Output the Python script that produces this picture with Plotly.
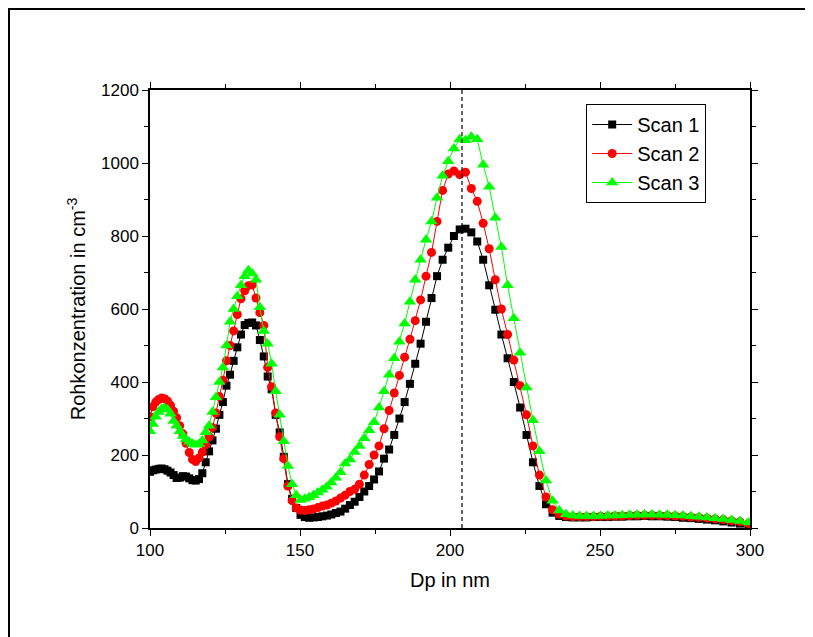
import plotly.graph_objects as go

dp_nm = [100.0, 100.95, 101.91, 102.88, 103.86, 104.84, 105.84, 106.84, 107.86, 108.88,
         109.92, 110.96, 112.02, 113.08, 114.16, 115.24, 116.34, 117.44, 118.56, 119.69,
         120.83, 121.98, 123.13, 124.30, 125.49, 126.68, 127.88, 129.10, 130.32, 131.56,
         132.80, 134.06, 135.33, 136.62, 137.92, 139.23, 140.55, 141.89, 143.24, 144.60,
         145.97, 147.36, 148.76, 150.17, 151.60, 153.04, 154.49, 155.96, 157.44, 158.94,
         160.44, 161.96, 163.50, 165.06, 166.63, 168.21, 169.81, 171.42, 173.05, 174.70,
         176.34, 178.02, 179.71, 181.42, 183.14, 184.88, 186.64, 188.41, 190.20, 192.01,
         193.84, 195.68, 197.54, 199.42, 201.31, 203.23, 205.16, 207.11, 209.08, 211.06,
         213.06, 215.09, 217.13, 219.20, 221.28, 223.38, 225.50, 227.65, 229.81, 231.99,
         234.19, 236.42, 238.67, 240.94, 243.22, 245.53, 247.87, 250.22, 252.60, 255.00,
         257.41, 259.87, 262.34, 264.83, 267.34, 269.88, 272.45, 275.04, 277.65, 280.29,
         282.95, 285.64, 288.35, 291.09, 293.85, 296.64, 299.46]

scan1 = [154, 158, 160, 162, 163, 161, 157, 152, 145, 137,
         138, 142, 141, 136, 131, 130, 134, 150, 180, 210,
         240, 272, 310, 345, 390, 420, 458, 495, 530, 556,
         562, 563, 555, 515, 470, 415, 380, 310, 262, 195,
         120, 80, 55, 36, 30, 28, 29, 30, 32, 34,
         37, 41, 45, 53, 63, 72, 85, 100, 115, 133,
         155, 190, 215, 255, 300, 345, 395, 450, 505, 565,
         630, 690, 735, 768, 800, 818, 820, 810, 785, 735,
         665, 598, 530, 465, 400, 330, 255, 180, 115, 65,
         42, 33, 30, 29, 29, 29, 30, 30, 30, 31,
         31, 32, 32, 33, 32, 32, 31, 30, 28, 27,
         25, 23, 21, 18, 15, 12, 8]

scan2 = [305, 332, 345, 352, 356, 354, 348, 336, 320, 302,
         280, 258, 232, 207, 188, 182, 192, 208, 228, 250,
         275, 315, 360, 405, 458, 500, 540, 585, 628, 650,
         664, 666, 630, 590, 555, 440, 387, 315, 250, 190,
         115, 75, 55, 49, 48, 50, 52, 56, 60, 63,
         68, 74, 82, 90, 100, 106, 120, 145, 174, 200,
         225, 272, 322, 370, 418, 468, 517, 568, 625, 690,
         755, 840, 925, 970, 978, 968, 975, 930, 895, 835,
         765, 680, 600, 530, 460, 390, 310, 225, 145, 85,
         50, 38, 33, 31, 31, 31, 31, 32, 32, 33,
         33, 34, 35, 35, 35, 34, 34, 33, 32, 30,
         29, 27, 25, 23, 20, 17, 12]

scan3 = [265, 285, 305, 318, 327, 329, 325, 313, 293, 280,
         265, 252, 243, 236, 231, 228, 230, 240, 262, 280,
         318, 358, 400, 440, 500, 565, 600, 635, 665, 690,
         706, 697, 680, 605, 540, 505, 450, 375, 310, 238,
         170, 120, 90, 77, 80, 84, 90, 97, 105, 113,
         125, 138, 153, 177, 188, 208, 225, 246, 268, 290,
         330, 375, 420, 465, 510, 560, 620, 680, 735, 790,
         840, 905, 965, 1005, 1040, 1065, 1062, 1072, 1065, 995,
         935, 850, 770, 665, 575, 480, 385, 295, 210, 130,
         75, 48, 38, 34, 33, 33, 33, 33, 34, 34,
         35, 36, 36, 37, 37, 36, 36, 35, 34, 32,
         31, 29, 27, 25, 22, 19, 15]

peak_line_x = 204

series = [
    ("Scan 1", scan1, "#000000", "square", 8),
    ("Scan 2", scan2, "#ff0000", "circle", 9),
    ("Scan 3", scan3, "#00ff00", "triangle-up", 11),
]

FONT = "Liberation Sans, Arial"
W, H = 805, 629
ML, MR, MT, MB = 142, 63, 82, 109
PW, PH = W - ML - MR, H - MT - MB

fig = go.Figure()
for name, ys, col, sym, sz in series:
    fig.add_trace(go.Scatter(
        x=dp_nm, y=ys, name=name, mode="lines+markers",
        line=dict(color=col, width=1),
        marker=dict(color=col, symbol=sym, size=sz, line=dict(width=0)),
    ))

fig.add_shape(type="line", xref="x", yref="paper", x0=peak_line_x, x1=peak_line_x,
              y0=0, y1=1, line=dict(color="black", width=1.2, dash="4px,3px"), layer="above")

# outer frame of the figure (left/top edges visible, right/bottom run off the page)
fig.add_shape(type="rect", xref="paper", yref="paper",
              x0=(0.5 - ML) / PW, x1=2.0, y0=-1.0, y1=(MT + PH - 0.5) / PH,
              line=dict(color="black", width=3), fillcolor="rgba(0,0,0,0)")

axis_common = dict(
    showline=True, linecolor="black", linewidth=1.5, mirror="ticks",
    ticks="outside", ticklen=6, tickwidth=1.3, tickcolor="black",
    showgrid=False, zeroline=False,
    tickfont=dict(family=FONT, size=17, color="black"),
)

fig.update_xaxes(range=[100, 300], tick0=100, dtick=50,
                 minor=dict(dtick=25, ticks="outside", ticklen=4, tickwidth=1.3, tickcolor="black"),
                 title=dict(text="Dp in nm", font=dict(family=FONT, size=20, color="black"),
                            standoff=14),
                 **axis_common)
fig.update_yaxes(range=[0, 1200], tick0=0, dtick=200,
                 minor=dict(dtick=100, ticks="outside", ticklen=4, tickwidth=1.3, tickcolor="black"),
                 title=dict(text="Rohkonzentration in cm<sup>-3</sup>",
                            font=dict(family=FONT, size=20, color="black"),
                            standoff=10),
                 **axis_common)

fig.update_layout(
    width=W, height=H,
    margin=dict(l=ML, r=MR, t=MT, b=MB),
    paper_bgcolor="white", plot_bgcolor="white",
    showlegend=True,
    legend=dict(x=0.727, y=0.968, xanchor="left", yanchor="top",
                bordercolor="black", borderwidth=1, bgcolor="white",
                font=dict(family=FONT, size=20, color="black"),
                tracegroupgap=0, itemwidth=40),
)

fig.write_html("out.html")
